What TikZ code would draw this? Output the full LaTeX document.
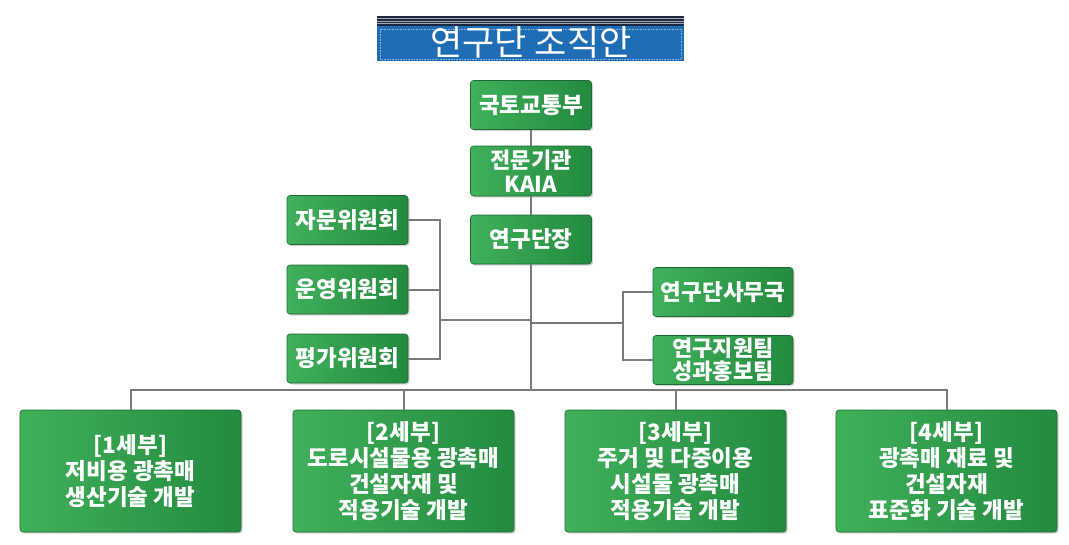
\documentclass[tikz,border=0pt]{standalone}
\usepackage{fontspec}
\setmainfont{Noto Sans CJK KR}
\usetikzlibrary{shadows}
\definecolor{gl}{HTML}{40B05A}
\definecolor{gd}{HTML}{238A3E}
\definecolor{gb}{HTML}{1C6B34}
\definecolor{conn}{HTML}{7A7A7A}
\definecolor{tblue}{HTML}{1F6DB5}
\definecolor{tdark}{HTML}{1A2840}
\tikzset{
  gbox/.style={rectangle, rounded corners=3pt, left color=gl, right color=gd,
    draw=gb, line width=0.6pt, text=white, align=center,
    font=\bfseries\fontsize{22.5}{26}\selectfont,
    drop shadow={shadow xshift=1.5pt, shadow yshift=-1.5pt, opacity=0.35}},
  sbox/.style={gbox, minimum width=121pt, minimum height=49pt, inner sep=0pt},
  twoline/.style={font=\bfseries\fontsize{22}{23.5}\selectfont},
  bbox/.style={gbox, minimum width=221pt, minimum height=122pt, inner sep=0pt},
  link/.style={draw=conn, line width=2pt}
}
\begin{document}
\begin{tikzpicture}[x=1pt,y=-1pt]
\useasboundingbox (0,0) rectangle (1069,544);
% title
\fill[tdark] (377,16) rectangle (684,26);
\draw[white!60!tdark, line width=0.5pt] (377,18.5) -- (684,18.5) (377,21) -- (684,21) (377,23.5) -- (684,23.5);
\fill[tblue] (377,26) rectangle (684,61);
\draw[white!50!tblue, densely dotted, line width=0.6pt] (380,29) rectangle (681,59);
\node[text=white, font=\fontsize{35}{40}\selectfont, inner sep=0pt] (title) at (531,42) {연구단 조직안};
% top column
\node[sbox] (n1) at (531,105) {국토교통부};
\node[sbox, minimum height=50pt, twoline] (n2) at (531,171) {전문기관\\KAIA};
\node[sbox] (n3) at (531,239.5) {연구단장};
% committees
\node[sbox, minimum width=121pt, minimum height=49pt] (c1) at (347.5,220) {자문위원회};
\node[sbox, minimum width=121pt] (c2) at (347.5,289.5) {운영위원회};
\node[sbox, minimum width=121pt] (c3) at (347.5,358.5) {평가위원회};
% right
\node[sbox, minimum width=140pt] (r1) at (723,292) {연구단사무국};
\node[sbox, minimum width=140pt, twoline] (r2) at (723,360) {연구지원팀\\성과홍보팀};
% bottom
\node[bbox] (b1) at (130.5,471) {[1세부]\\저비용 광촉매\\생산기술 개발};
\node[bbox] (b2) at (403.5,471) {[2세부]\\도로시설물용 광촉매\\건설자재 및\\적용기술 개발};
\node[bbox] (b3) at (675.5,471) {[3세부]\\주거 및 다중이용\\시설물 광촉매\\적용기술 개발};
\node[bbox] (b4) at (946.5,471) {[4세부]\\광촉매 재료 및\\건설자재\\표준화 기술 개발};
% connectors
\coordinate (lx) at (440,320);
\coordinate (rx) at (623,323);
\coordinate (bus) at (531,390);
\draw[link] (n1) -- (n2);
\draw[link] (n2) -- (n3);
\draw[link] (n3.south) -- (bus);
\draw[link] (c1.east) -| (lx);
\draw[link] (c3.east) -| (lx);
\draw[link] (c2.east) -- (c2.east -| lx);
\draw[link] (lx) -- (lx -| n3.south);
\draw[link] (r1.west) -| (rx);
\draw[link] (r2.west) -| (rx);
\draw[link] (rx) -- (rx -| n3.south);
\draw[link] (b1.north) |- (bus) -| (b4.north);
\draw[link] (b2.north) -- (b2.north |- bus);
\draw[link] (b3.north) -- (b3.north |- bus);
\end{tikzpicture}
\end{document}
